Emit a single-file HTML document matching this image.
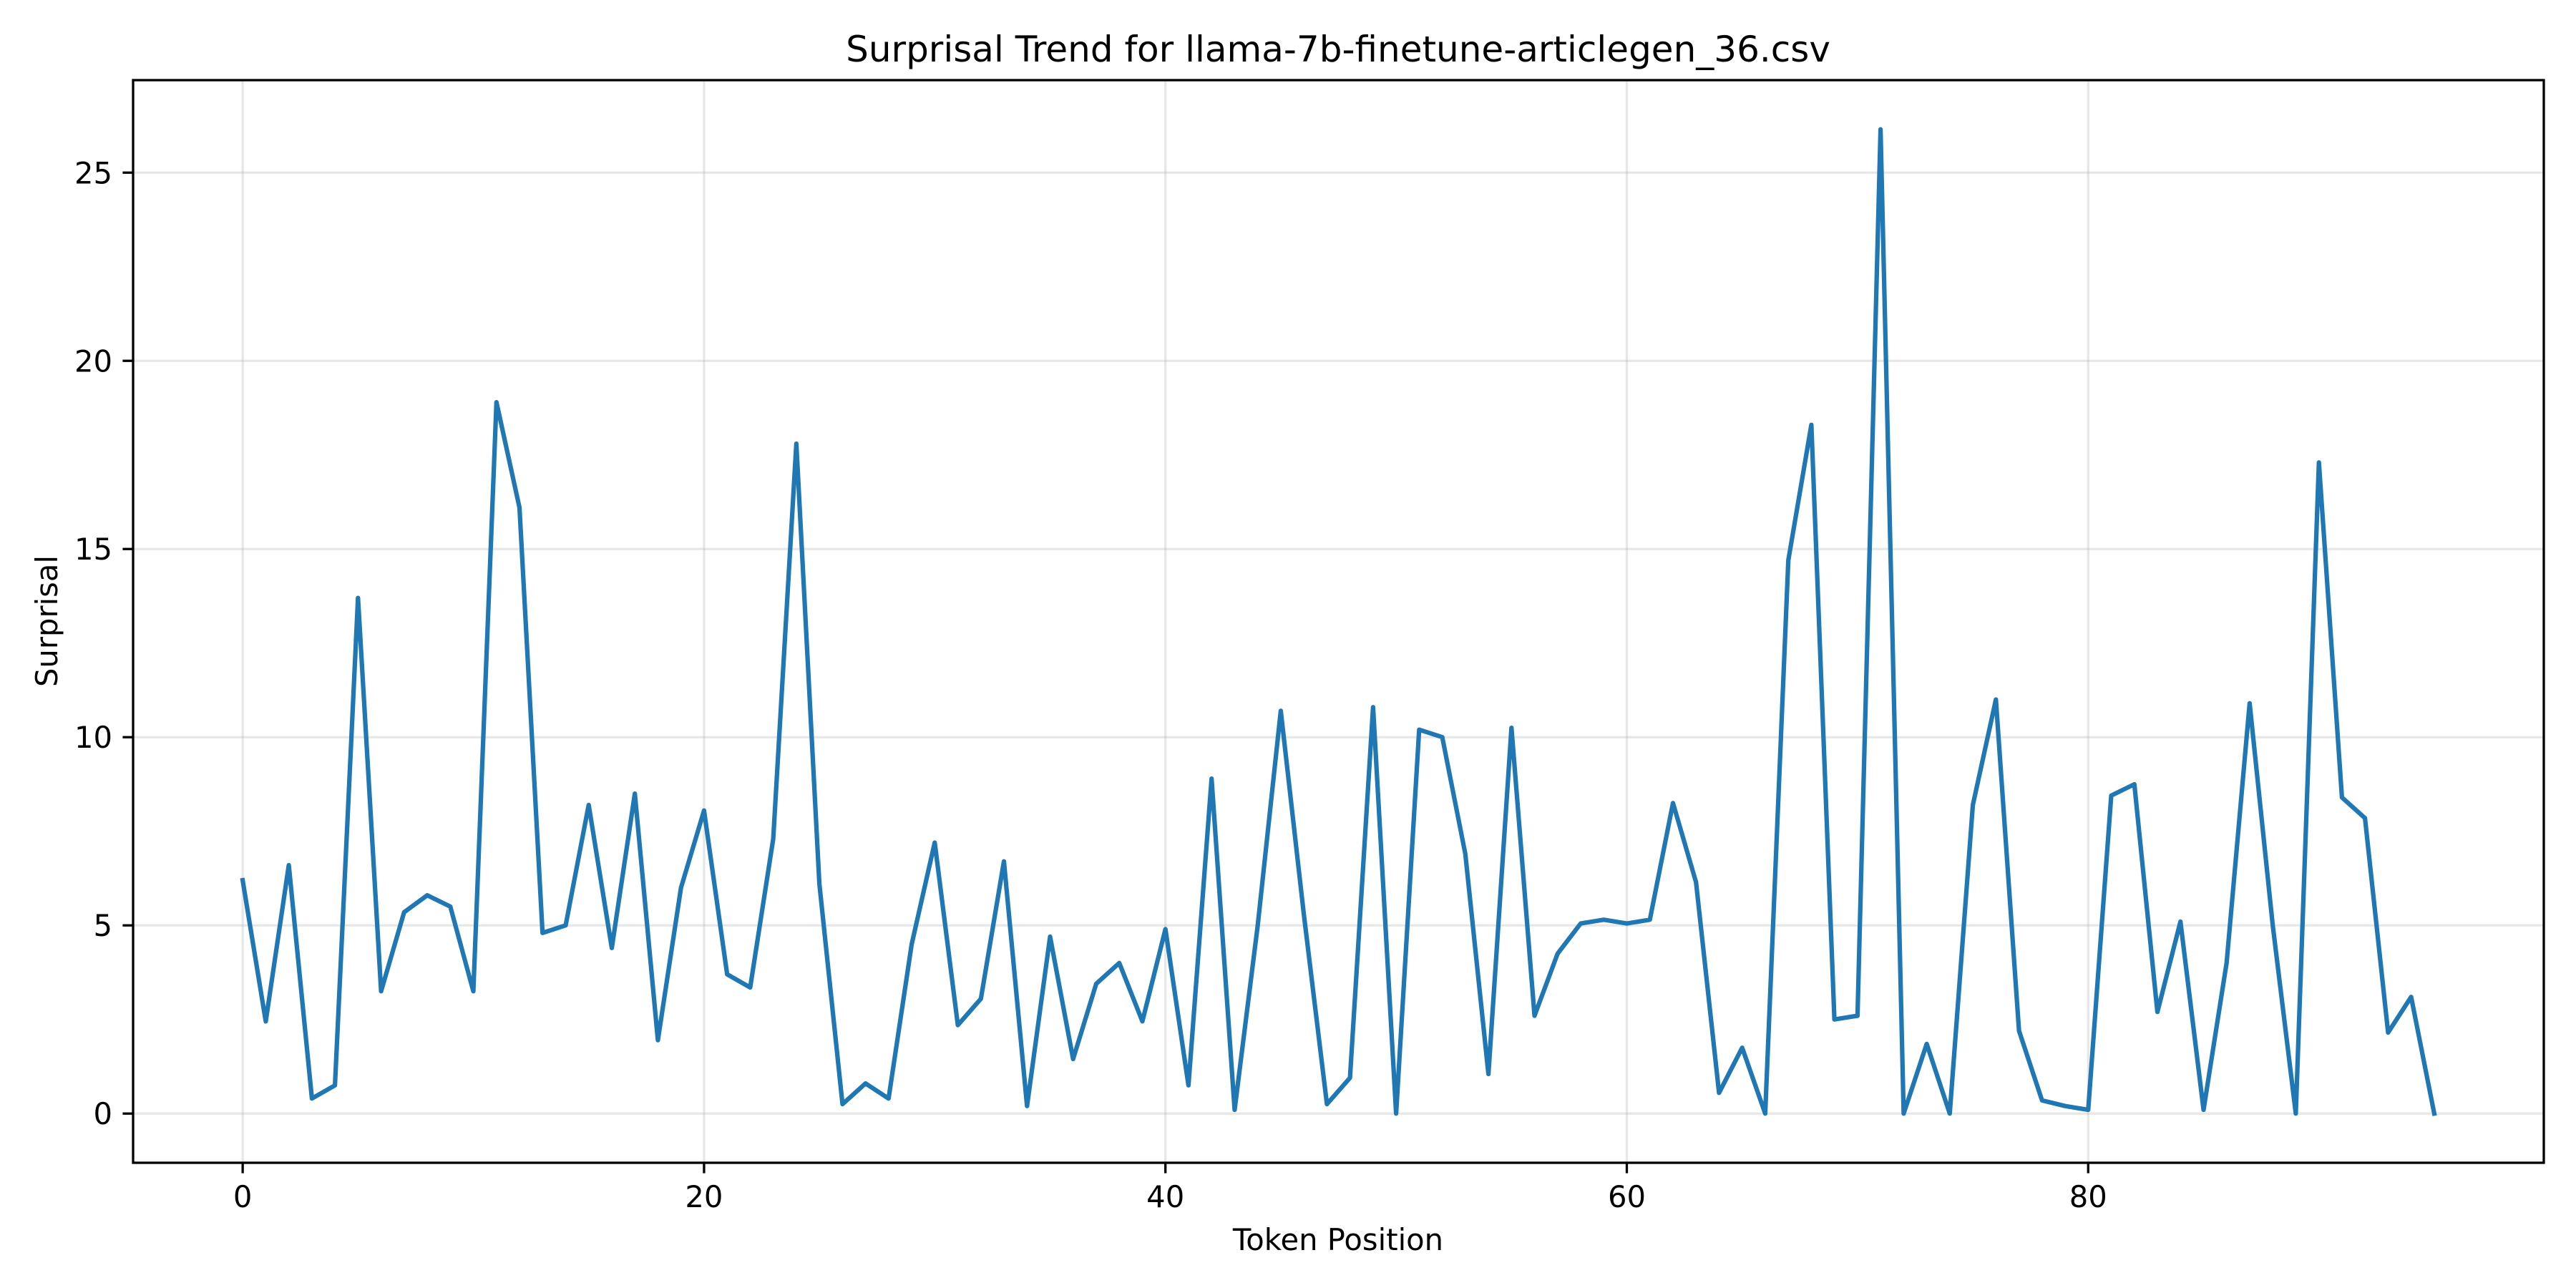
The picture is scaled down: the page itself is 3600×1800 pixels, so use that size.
<!DOCTYPE html>
<html><head><meta charset="utf-8"><style>
html,body{margin:0;padding:0;background:#fff;}
svg{display:block;font-family:"DejaVu Sans","Liberation Sans",sans-serif;}
</style></head><body>
<svg id="chart" width="3600" height="1800" viewBox="0 0 3600 1800" xmlns="http://www.w3.org/2000/svg">
<rect width="3600" height="1800" fill="#fff"/>
<g id="grid"></g>
<g id="ticks"></g>
<path id="series" fill="none" stroke="#1f77b4" stroke-width="6.25" stroke-linejoin="round" stroke-linecap="square"/>
<rect x="186" y="112" width="3369" height="1513" fill="none" stroke="#000" stroke-width="3.3"/>
<text x="1870" y="86" font-size="50" text-anchor="middle">Surprisal Trend for llama-7b-finetune-articlegen_36.csv</text>
<text x="1870" y="1747" font-size="41.7" text-anchor="middle">Token Position</text>
<text x="0" y="0" font-size="41.7" text-anchor="middle" transform="translate(80,868) rotate(-90)">Surprisal</text>
</svg>
<script>
const surprisal = [6.2,2.45,6.6,0.4,0.75,13.7,3.25,5.35,5.8,5.5,3.25,18.9,16.1,4.8,5.0,8.2,4.4,8.5,1.95,6.0,8.05,3.7,3.35,7.3,17.8,6.1,0.25,0.8,0.4,4.5,7.2,2.35,3.05,6.7,0.2,4.7,1.45,3.45,4.0,2.45,4.9,0.75,8.9,0.1,5.0,10.7,5.3,0.25,0.95,10.8,0.0,10.2,10.0,6.9,1.05,10.25,2.6,4.25,5.05,5.15,5.05,5.15,8.25,6.15,0.55,1.75,0.0,14.7,18.3,2.5,2.6,26.15,0.0,1.85,0.0,8.2,11.0,2.2,0.35,0.2,0.1,8.45,8.75,2.7,5.1,0.1,4.0,10.9,5.0,0.0,17.3,8.4,7.85,2.15,3.1,0.0];
const xTicks = [0,20,40,60,80];
const yTicks = [0,5,10,15,20,25];

const L=186,R=3555,T=112,B=1625;
const n=surprisal.length;
const xMin=-0.05*(n-1), xMax=(n-1)*1.05;
const yLo=Math.min(...surprisal), yHi=Math.max(...surprisal);
const yMin=yLo-0.05*(yHi-yLo), yMax=yHi+0.05*(yHi-yLo);
const sx=v=>L+(v-xMin)/(xMax-xMin)*(R-L);
const sy=v=>B-(v-yMin)/(yMax-yMin)*(B-T);
const NS='http://www.w3.org/2000/svg';
const grid=document.getElementById('grid'), ticks=document.getElementById('ticks');
function mk(tag,attrs,parent){const e=document.createElementNS(NS,tag);for(const k in attrs)e.setAttribute(k,attrs[k]);parent.appendChild(e);return e;}
xTicks.forEach(v=>{
  const x=sx(v);
  const g=mk('line',{x1:x,x2:x,y1:T,y2:B,stroke:'#b0b0b0','stroke-opacity':0.3,'stroke-width':3.3},grid);
  
  
  const t=mk('line',{x1:x,x2:x,y1:B,y2:B+14.6,stroke:'#000','stroke-width':3.3},ticks);
  
  
  const l=mk('text',{x:x,y:B+62,'font-size':41.7,'text-anchor':'middle'},ticks);
  l.textContent=v;
  
  
});
yTicks.forEach(v=>{
  const y=sy(v);
  const g=mk('line',{x1:L,x2:R,y1:y,y2:y,stroke:'#b0b0b0','stroke-opacity':0.3,'stroke-width':3.3},grid);
  
  
  const t=mk('line',{x1:L-14.6,x2:L,y1:y,y2:y,stroke:'#000','stroke-width':3.3},ticks);
  
  
  const l=mk('text',{x:L-29,y:y+15,'font-size':41.7,'text-anchor':'end'},ticks);
  l.textContent=v;
  
  
});
document.getElementById('series').setAttribute('d',surprisal.map((v,i)=>(i?'L':'M')+sx(i).toFixed(1)+' '+sy(v).toFixed(1)).join(' '));
</script>
</body></html>
